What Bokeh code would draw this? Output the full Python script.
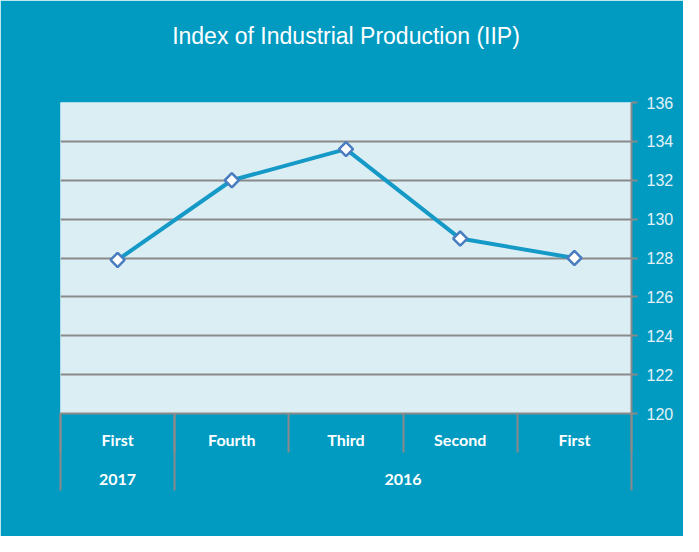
import numpy as np
from bokeh.plotting import figure
from bokeh.models import LinearAxis, FixedTicker, Range1d, ColumnDataSource, Title
from bokeh.embed import file_html
from bokeh.resources import INLINE

# ---- data ----
quarters = ["First", "Fourth", "Third", "Second", "First"]
years = ["2017", "2016", "2016", "2016", "2016"]
iip = [127.9, 132.0, 133.6, 129.0, 128.0]
y_ticks = [120, 122, 124, 126, 128, 130, 132, 134, 136]
title_text = "Index of Industrial Production (IIP)"

BG = "#019bc2"
PLOT_BG = "#dbeef4"
GRID = "#8a8a8a"
LINE = "#1599c6"
MARK = "#4a7dc0"
NARROW = "'Liberation Sans Narrow', 'Arial Narrow', 'Liberation Sans', sans-serif"

n = len(quarters)
xs = [i + 0.5 for i in range(n)]

bounds = [0]
for i in range(1, n):
    if years[i] != years[i - 1]:
        bounds.append(i)
bounds.append(n)
group_centers = [(bounds[k] + bounds[k + 1]) / 2 for k in range(len(bounds) - 1)]
group_labels = [years[bounds[k]] for k in range(len(bounds) - 1)]

src = ColumnDataSource(dict(x=xs, y=iip))

p = figure(width=683, height=536, output_backend="svg", toolbar_location=None,
           x_range=Range1d(0, n), y_range=Range1d(y_ticks[0], y_ticks[-1]),
           x_axis_location=None, y_axis_location="right", title=None,
           min_border_left=60, min_border_right=52, min_border_top=102, min_border_bottom=123,
           background_fill_color=PLOT_BG, border_fill_color=BG, outline_line_color=None)
p.styles = {"box-shadow": "-2px -2px 0 0 #8a8a8a"}

# spacer between frame and title
spacer = Title(text=" ", text_font_size="1px", standoff=51, text_color=BG)
p.add_layout(spacer, "above")
main_title = Title(text=title_text, align="center", text_color="white",
                   text_font=NARROW, text_font_size="23px", text_font_style="normal",
                   standoff=0)
p.add_layout(main_title, "above")

ya = p.yaxis[0]
ya.ticker = FixedTicker(ticks=y_ticks)
ya.major_tick_out = 6
ya.major_tick_in = 0
ya.minor_tick_line_color = None
ya.axis_line_color = GRID
ya.axis_line_width = 2
ya.major_tick_line_color = GRID
ya.major_tick_line_width = 2
ya.major_label_text_color = "#e4f3f8"
ya.major_label_text_font = NARROW
ya.major_label_text_font_size = "16px"
ya.major_label_standoff = 9

p.ygrid.ticker = FixedTicker(ticks=y_ticks)
p.ygrid.grid_line_color = GRID
p.ygrid.grid_line_width = 2
p.xgrid.visible = False

ax_q = LinearAxis(ticker=FixedTicker(ticks=xs, minor_ticks=list(range(n + 1))),
                  major_label_overrides={x: q for x, q in zip(xs, quarters)})
ax_q.axis_line_color = GRID
ax_q.axis_line_width = 2
ax_q.major_tick_line_color = None
ax_q.major_tick_out = 0
ax_q.major_tick_in = 0
ax_q.minor_tick_out = 39
ax_q.minor_tick_in = 0
ax_q.minor_tick_line_color = GRID
ax_q.minor_tick_line_width = 2
ax_q.major_label_standoff = -23
ax_q.major_label_text_font = "Lato"
ax_q.major_label_text_font_style = "bold"
ax_q.major_label_text_font_size = "16px"
ax_q.major_label_text_color = "white"
p.add_layout(ax_q, "below")

ax_y = LinearAxis(ticker=FixedTicker(ticks=group_centers, minor_ticks=bounds),
                  major_label_overrides={c: g for c, g in zip(group_centers, group_labels)})
ax_y.axis_line_color = None
ax_y.major_tick_line_color = None
ax_y.major_tick_out = 0
ax_y.major_tick_in = 0
ax_y.minor_tick_in = 38
ax_y.minor_tick_out = 39
ax_y.minor_tick_line_color = GRID
ax_y.minor_tick_line_width = 2
ax_y.major_label_standoff = -17
ax_y.major_label_text_font = "Lato"
ax_y.major_label_text_font_style = "bold"
ax_y.major_label_text_font_size = "16px"
ax_y.major_label_text_color = "white"
p.add_layout(ax_y, "below")

p.line("x", "y", source=src, line_color=LINE, line_width=4)
p.scatter("x", "y", source=src, marker="square", angle=np.pi / 4, size=10,
          fill_color="white", line_color=MARK, line_width=2.5)

open("out.html", "w").write(file_html(p, INLINE))
